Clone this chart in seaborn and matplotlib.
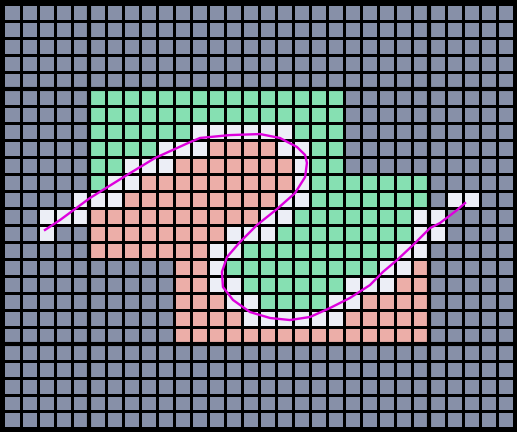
import numpy as np
import matplotlib
matplotlib.use("Agg")
import matplotlib.pyplot as plt
from matplotlib.colors import ListedColormap
import seaborn as sns

# grille 30 x 25 : 0 = gris, 1 = vert, 2 = saumon, 3 = blanc (cases traversees par la courbe)
grille_txt = [
    "000000000000000000000000000000",
    "000000000000000000000000000000",
    "000000000000000000000000000000",
    "000000000000000000000000000000",
    "000000000000000000000000000000",
    "000001111111111111110000000000",
    "000001111111111111110000000000",
    "000001111113333331110000000000",
    "000001111333222233110000000000",
    "000001133322222223110000000000",
    "000001332222222223111111100000",
    "000033322222222233111111103300",
    "003332222222222331111111330000",
    "003002222222233311111111330000",
    "000002222222331111111113300000",
    "000000000022311111111133200000",
    "000000000022331111113332200000",
    "000000000022233111133222200000",
    "000000000022223333332222200000",
    "000000000022222222222222200000",
    "000000000000000000000000000000",
    "000000000000000000000000000000",
    "000000000000000000000000000000",
    "000000000000000000000000000000",
    "000000000000000000000000000000",
]
grille = np.array([[int(c) for c in ligne] for ligne in grille_txt])

couleurs = ["#8790a8", "#86e0b2", "#ecaea8", "#eceef6"]

# lignes de separation plus epaisses
lignes_v = [5, 25]
lignes_h = [5, 20]

# courbe (coordonnees en cases)
courbe_x = [2.44, 3.32, 5.09, 7.26, 8.91, 10.85, 11.56, 13.32, 15.09, 16.26, 17.26,
            17.74, 17.85, 17.74, 17.15, 16.09, 14.91, 13.91, 13.15, 12.85, 12.91,
            13.50, 14.50, 15.68, 16.85, 18.03, 19.21, 20.38, 21.56, 22.32, 23.15,
            24.09, 25.09, 25.68, 26.68, 27.15]
courbe_y = [13.32, 12.74, 11.44, 10.09, 9.09, 8.21, 7.91, 7.74, 7.68, 7.91, 8.44,
            8.91, 9.38, 10.21, 11.15, 12.09, 13.03, 14.03, 14.91, 15.79, 16.68,
            17.44, 18.15, 18.50, 18.62, 18.44, 17.91, 17.32, 16.56, 15.79, 15.09,
            14.21, 13.21, 12.91, 12.15, 11.74]

fig = plt.figure(figsize=(5.17, 4.32), dpi=100, facecolor="black")
ax = fig.add_axes([0, 0, 1, 1])
ax.set_facecolor("black")

sns.heatmap(grille, cmap=ListedColormap(couleurs), vmin=-0.5, vmax=3.5,
            linewidths=2.16, linecolor="black", cbar=False,
            xticklabels=False, yticklabels=False, ax=ax)

for v in lignes_v:
    ax.axvline(v, color="black", linewidth=3.0)
for h in lignes_h:
    ax.axhline(h, color="black", linewidth=3.0)

sns.lineplot(x=courbe_x, y=courbe_y, sort=False, estimator=None,
             color="#dd00dd", linewidth=1.7, ax=ax)

m = 3.5 / 17
ax.set_xlim(-m, 30 + m)
ax.set_ylim(25 + m, -m)
ax.axis("off")

fig.savefig("out.png", dpi=100, facecolor="black")
